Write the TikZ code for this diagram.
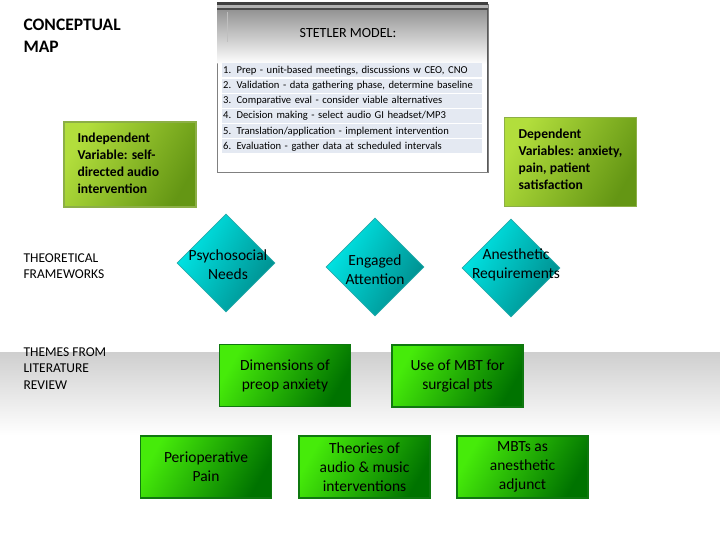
\documentclass[tikz,border=0pt]{standalone}
\usepackage{fontspec}
\setmainfont{Carlito}
\usetikzlibrary{shapes.geometric}
\definecolor{rowfill}{RGB}{228,233,242}
\definecolor{olivelt}{RGB}{178,222,60}
\definecolor{olivedk}{RGB}{100,150,20}
\definecolor{oliveln}{RGB}{140,175,70}
\definecolor{greenlt}{RGB}{70,235,10}
\definecolor{greendk}{RGB}{0,115,0}
\definecolor{greenln}{RGB}{15,120,15}
\definecolor{cyanlt}{RGB}{0,232,232}
\definecolor{cyandk}{RGB}{0,140,140}
\definecolor{cyanln}{RGB}{40,170,170}
\begin{document}
\begin{tikzpicture}[x=1pt,y=-1pt,
  heading/.style={anchor=west,align=left,font={\bfseries\fontsize{17.5}{22}\selectfont}},
  sidelabel/.style={anchor=west,align=left,font={\fontsize{13.5}{16.5}\selectfont}},
  varbox/.style={draw=oliveln,line width=1.2pt,left color=olivelt,right color=olivedk,shading angle=60,inner sep=0pt},
  vartext/.style={anchor=west,align=left,font={\bfseries\fontsize{13.6}{17}\selectfont}},
  themebox/.style={draw=greenln,line width=1.5pt,left color=greenlt,right color=greendk,shading angle=60,
     minimum width=131pt,minimum height=62pt,inner sep=0pt,align=center,font={\fontsize{15.5}{19}\selectfont}},
  needdiamond/.style={diamond,aspect=1,draw=cyanln,line width=0.8pt,left color=cyanlt,right color=cyandk,shading angle=60,
     minimum width=98pt,minimum height=98pt,inner sep=0pt},
  needtext/.style={align=center,font={\fontsize{15.5}{19}\selectfont}},
  steprow/.style={fill=rowfill,anchor=west,minimum width=260pt,minimum height=14pt,inner sep=0pt,text width=258pt,align=left,font={\fontsize{10.6}{12}\selectfont}}
]
\useasboundingbox (0,0) rectangle (720,540);
% background band
\fill[white] (0,0) rectangle (720,540);
\shade[top color=black!19,bottom color=white] (0,352) rectangle (720,435);
% headings
\node[heading] (concept) at (20,36) {CONCEPTUAL\\MAP};
\node[sidelabel] (theory) at (20,266) {THEORETICAL\\FRAMEWORKS};
\node[sidelabel] (themes) at (20,368.5) {THEMES FROM\\LITERATURE\\REVIEW};
% Stetler model box
\node[draw=black!50,fill=white,line width=0.8pt,minimum width=271pt,minimum height=168pt,inner sep=0pt,anchor=north west] (stetler) at (217,4) {};
\shade[top color=black!42,bottom color=white] (217.5,10) rectangle (487.5,64);
\fill[black!75] (217,2) rectangle (488,5);
\fill[black!30] (217,5) rectangle (488,8);
\fill[black!70] (217,8) rectangle (488,10.5);
\draw[black!65,line width=1.3pt] (487.5,10) -- (487.5,172);
\draw[black!25,line width=1pt] (227,12) -- (227,42);
\node[font={\fontsize{14}{15}\selectfont}] (stetlertitle) at (348,33) {STETLER MODEL:};
\node[steprow] (s1) at (222,70.5) {1. Prep - unit-based meetings, discussions w CEO, CNO};
\node[steprow] (s2) at (222,85.7) {2. Validation - data gathering phase, determine baseline};
\node[steprow] (s3) at (222,100.9) {3. Comparative eval - consider viable alternatives};
\node[steprow] (s4) at (222,116.1) {4. Decision making - select audio GI headset/MP3};
\node[steprow] (s5) at (222,131.3) {5. Translation/application - implement intervention};
\node[steprow] (s6) at (222,146.5) {6. Evaluation - gather data at scheduled intervals};
% variable boxes
\node[varbox,minimum width=132pt,minimum height=85pt] (indep) at (130,164.5) {};
\node[vartext] (indeptext) at (74,163.5) {Independent\\Variable: self-\\directed audio\\intervention};
\node[varbox,minimum width=132pt,minimum height=89pt] (dep) at (570.5,162) {};
\node[vartext] (deptext) at (515,159.5) {Dependent\\Variables: anxiety,\\pain, patient\\satisfaction};
% diamonds
\node[needdiamond] (psy) at (226,263) {};
\node[needtext] (psytext) at (228,265) {Psychosocial\\Needs};
\node[needdiamond] (eng) at (375,267) {};
\node[needtext] (engtext) at (375,269.5) {Engaged\\Attention};
\node[needdiamond] (anes) at (511,268) {};
\node[needtext] (anestext) at (516,265) {Anesthetic\\Requirements};
% theme boxes
\node[themebox] (dim) at (285,375.5) {Dimensions of\\preop anxiety};
\node[themebox] (mbt) at (457.5,376) {Use of MBT for\\surgical pts};
\node[themebox] (peri) at (206,467) {Perioperative\\Pain};
\node[themebox] (theo) at (364.5,467) {Theories of\\audio \& music\\interventions};
\node[themebox] (adj) at (522.5,467) {MBTs as\\anesthetic\\adjunct};
\end{tikzpicture}
\end{document}
